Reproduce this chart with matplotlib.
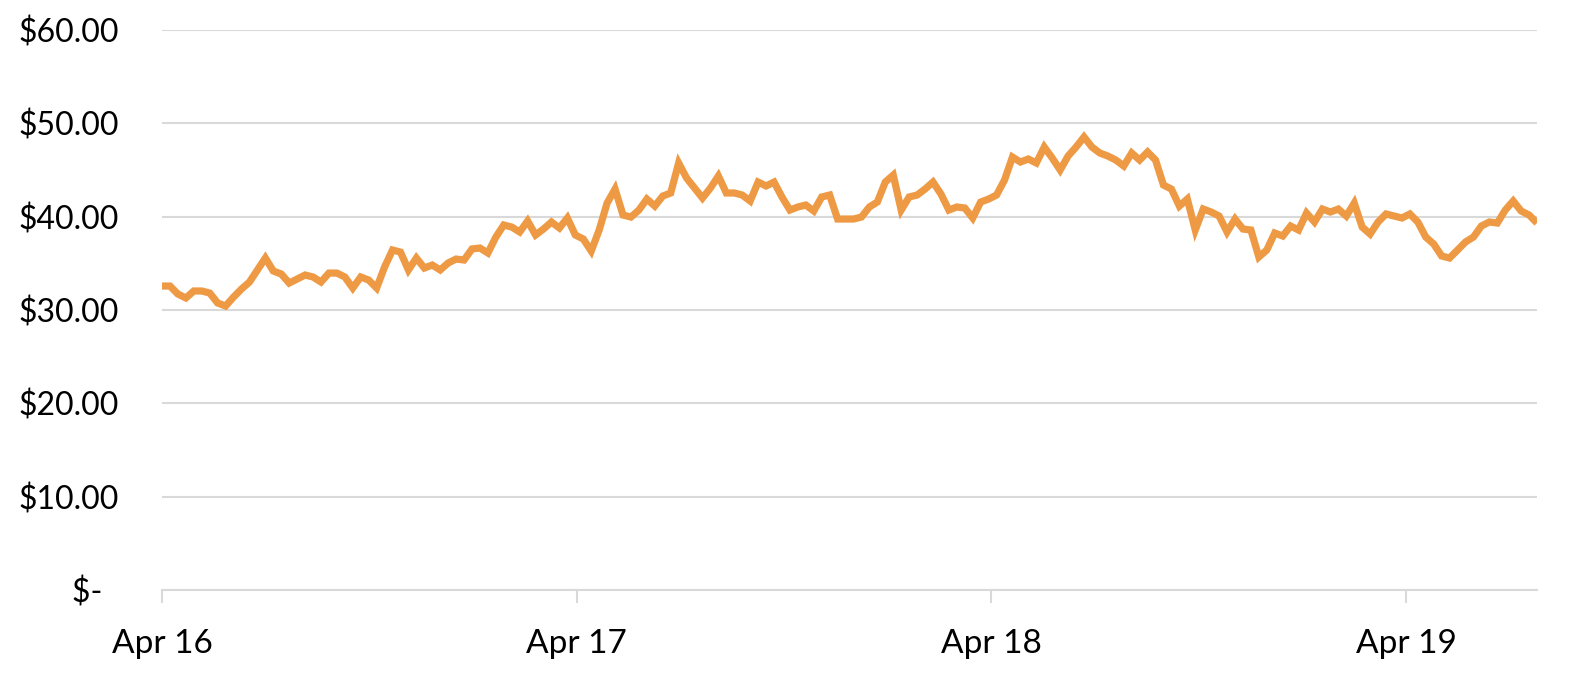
import numpy as np
import pandas as pd
import matplotlib
matplotlib.use('Agg')
from matplotlib import pyplot as plt
import matplotlib.dates as mdates
from matplotlib.ticker import FuncFormatter

# price series, one value per sample (uniform time steps)
prices = [
    32.57, 32.57, 31.71, 31.29, 32.04, 32.04, 31.82, 30.75, 30.43, 31.39,
    32.25, 33.00, 34.29, 35.57, 34.18, 33.86, 32.89, 33.32, 33.75, 33.54,
    33.00, 33.96, 33.96, 33.54, 32.36, 33.54, 33.21, 32.36, 34.61, 36.43,
    36.21, 34.29, 35.57, 34.50, 34.82, 34.29,
    35.04, 35.46, 35.36, 36.54, 36.64, 36.11, 37.82, 39.11, 38.89, 38.36,
    39.54, 38.04, 38.68, 39.43, 38.79, 39.86, 38.04, 37.61, 36.32, 38.57,
    41.46, 42.96, 40.18, 39.96, 40.71, 41.89, 41.14, 42.21, 42.54, 45.75,
    44.14, 43.07, 42.00, 43.07, 44.36,
    42.54, 42.54, 42.32, 41.68, 43.71, 43.29, 43.71, 42.11, 40.71, 41.04,
    41.25, 40.61, 42.11, 42.32, 39.75, 39.75, 39.75, 39.96, 41.04, 41.57,
    43.71, 44.46, 40.71, 42.11, 42.32, 42.96, 43.71, 42.43, 40.71, 41.04,
    40.93, 39.86, 41.57, 41.89, 42.32,
    43.93, 46.39, 45.86, 46.18, 45.75, 47.46, 46.29, 45.00, 46.50, 47.46,
    48.54, 47.46, 46.82, 46.50, 46.07, 45.43, 46.82, 46.07, 46.93, 46.07,
    43.39, 42.96, 41.14, 41.89, 38.57, 40.82, 40.50, 40.07, 38.36, 39.75,
    38.68, 38.57, 35.68, 36.43, 38.25, 37.93, 39.00,
    38.57, 40.39, 39.43, 40.82, 40.50, 40.82, 40.07, 41.46, 38.89, 38.14,
    39.43, 40.29, 40.07, 39.86, 40.29, 39.43, 37.82, 37.07, 35.79, 35.57,
    36.43, 37.29, 37.82, 39.00, 39.43, 39.32, 40.71, 41.68, 40.61, 40.18,
    39.32,
]
start = pd.Timestamp('2019-04-16 00:00')
end = pd.Timestamp('2019-04-19 07:35')
times = pd.date_range(start, end, periods=len(prices))

y_ticks = [0, 10, 20, 30, 40, 50, 60]
day_ticks = pd.date_range('2019-04-16', '2019-04-19', freq='D')

line_color = '#EE9A45'
grid_color = '#D9D9D9'

plt.rcParams['font.family'] = ['Lato', 'DejaVu Sans']

fig = plt.figure(figsize=(15.7, 6.84), dpi=100)
ax = fig.add_axes([0.1032, 0.1374, 0.8758, 0.8187])

ax.plot(times, prices, color=line_color, linewidth=5.2, solid_joinstyle='miter',
        solid_capstyle='butt')

ax.set_ylim(0, 60)
ax.set_xlim(times[0], times[-1])
ax.set_yticks(y_ticks)


def money(v, pos):
    # accounting style: zero shows as a dash
    if v == 0:
        return '$-  '
    return '${:.2f}'.format(v)


ax.yaxis.set_major_formatter(FuncFormatter(money))
ax.set_xticks(day_ticks)
ax.xaxis.set_major_formatter(mdates.DateFormatter('%b %d'))

ax.grid(axis='y', color=grid_color, linewidth=1.5)
ax.set_axisbelow(True)
for side in ['top', 'right', 'left']:
    ax.spines[side].set_visible(False)
ax.spines['bottom'].set_color(grid_color)
ax.spines['bottom'].set_linewidth(1.5)

ax.tick_params(axis='y', length=0, pad=31, labelsize=23)
ax.tick_params(axis='x', length=9, width=1.5, color=grid_color, pad=19, labelsize=24)

fig.savefig('out.png', dpi=100, facecolor='white')
